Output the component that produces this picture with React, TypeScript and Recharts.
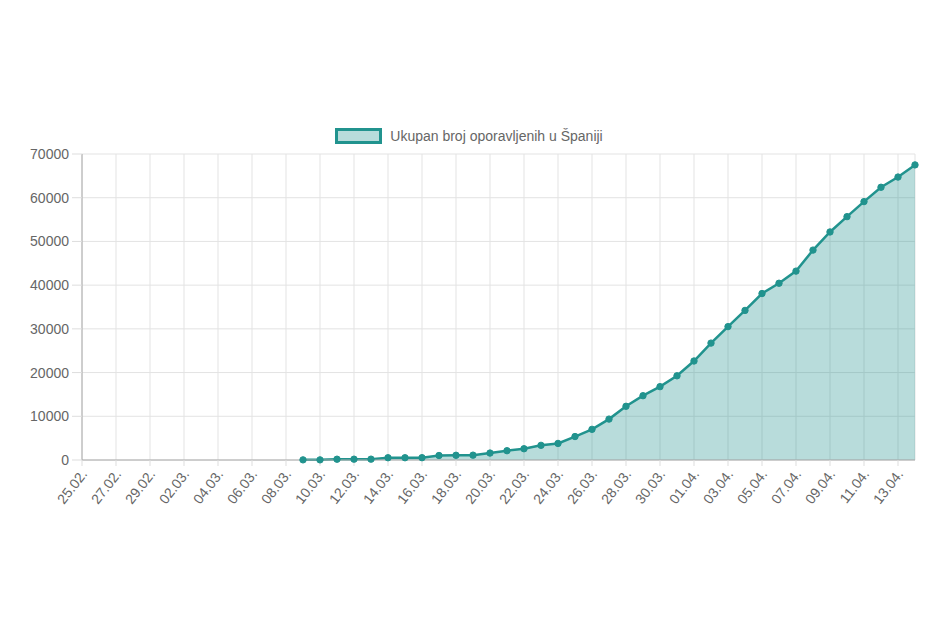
import React from "react"
import { ComposedChart, Area, XAxis, YAxis, CartesianGrid } from "recharts"

const TEAL = "#21938e"
const FILL = "rgba(33,147,142,0.32)"

const dates = [
  "25.02.", "26.02.", "27.02.", "28.02.", "29.02.",
  "01.03.", "02.03.", "03.03.", "04.03.", "05.03.", "06.03.", "07.03.", "08.03.", "09.03.", "10.03.",
  "11.03.", "12.03.", "13.03.", "14.03.", "15.03.", "16.03.", "17.03.", "18.03.", "19.03.", "20.03.",
  "21.03.", "22.03.", "23.03.", "24.03.", "25.03.", "26.03.", "27.03.", "28.03.", "29.03.", "30.03.",
  "31.03.", "01.04.", "02.04.", "03.04.", "04.04.", "05.04.", "06.04.", "07.04.", "08.04.", "09.04.",
  "10.04.", "11.04.", "12.04.", "13.04.", "14.04.",
]

// null = nema podataka
const recovered = [
  null, null, null, null, null,
  null, null, null, null, null, null, null, null, 32, 32,
  183, 189, 193, 517, 517, 530, 1028, 1081, 1107, 1588,
  2125, 2575, 3355, 3794, 5367, 7015, 9357, 12285, 14709, 16780,
  19259, 22647, 26743, 30513, 34219, 38080, 40437, 43208, 48021, 52165,
  55668, 59109, 62391, 64727, 67504,
]

const yTicks = [0, 10000, 20000, 30000, 40000, 50000, 60000, 70000]

const data = dates.map((d, i) => ({ date: d, value: recovered[i] }))

const font = "Arial, 'Liberation Sans', Helvetica, sans-serif"

function DateTick({ x, y, payload }) {
  return (
    <g transform={`translate(${x + 3},${y + 4}) rotate(-52)`}>
      <text textAnchor="end" dominantBaseline="middle" fill="#666" fontSize={14} fontFamily={font}>
        {payload.value}
      </text>
    </g>
  )
}

export default function App() {
  return (
    <div style={{ position: "relative", width: 922, height: 600 }}>
      <div
        style={{
          position: "absolute",
          top: 119,
          left: 0,
          width: 922,
          height: 17,
          display: "flex",
          justifyContent: "center",
          alignItems: "center",
          fontFamily: font,
          fontSize: 14,
          color: "#666",
        }}
      >
        <span
          style={{
            display: "inline-block",
            width: 47,
            height: 16,
            background: FILL,
            border: `3px solid ${TEAL}`,
            boxSizing: "border-box",
            marginRight: 8,
          }}
        />
        <span>Ukupan broj oporavljenih u Španiji</span>
      </div>
      <ComposedChart
        width={922}
        height={600}
        data={data}
        margin={{ top: 146, right: 15, bottom: 88, left: 0 }}
      >
        <CartesianGrid stroke="#e3e3e3" />
        <XAxis
          dataKey="date"
          interval={1}
          height={60}
          tick={<DateTick />}
          tickSize={6}
          stroke="#aaa"
          tickLine={{ stroke: "#ddd" }}
        />
        <YAxis
          width={74}
          domain={[0, 70000]}
          ticks={yTicks}
          tickSize={10}
          tickMargin={3}
          stroke="#aaa"
          tickLine={{ stroke: "#ddd" }}
          tick={{ fill: "#666", fontSize: 14, fontFamily: font }}
        />
        <Area
          type="linear"
          dataKey="value"
          stroke={TEAL}
          strokeWidth={2.5}
          fill={FILL}
          fillOpacity={1}
          dot={{ r: 3.2, fill: TEAL, stroke: TEAL, strokeWidth: 1 }}
          activeDot={false}
          connectNulls={false}
          isAnimationActive={false}
        />
      </ComposedChart>
    </div>
  )
}
